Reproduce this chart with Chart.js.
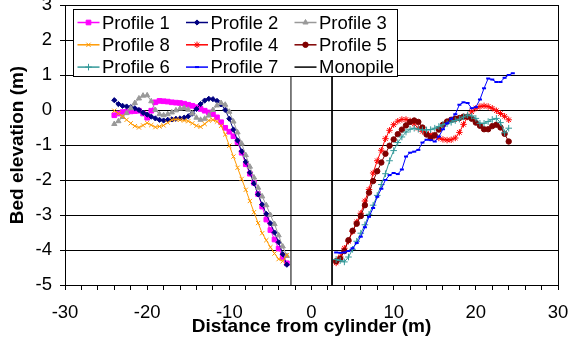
<!DOCTYPE html>
<html>
<head>
<meta charset="utf-8">
<script src="https://cdn.jsdelivr.net/npm/chart.js@4.4.1/dist/chart.umd.min.js"></script>
<style>
html,body{margin:0;padding:0;background:#fff;}
#wrap{position:relative;width:570px;height:347px;}
canvas{display:block;}
</style>
</head>
<body>
<div id="wrap"><canvas id="c" width="570" height="347"></canvas></div>
<script>
// ---- Data ----
const seriesLabels = ['Profile 1','Profile 2','Profile 3','Profile 8','Profile 4','Profile 5','Profile 6','Profile 7','Monopile'];

const leftX = [-24,-23.5,-23,-22.5,-22,-21.5,-21,-20.5,-20,-19.5,-19,-18.5,-18,-17.5,-17,-16.5,-16,-15.5,-15,-14.5,-14,-13.5,-13,-12.5,-12,-11.5,-11,-10.5,-10,-9.5,-9,-8.5,-8,-7.5,-7,-6.5,-6,-5.5,-5,-4.5,-4,-3.5,-3];
const rightX = [3,3.5,4,4.5,5,5.5,6,6.5,7,7.5,8,8.5,9,9.5,10,10.5,11,11.5,12,12.5,13,13.5,14,14.5,15,15.5,16,16.5,17,17.5,18,18.5,19,19.5,20,20.5,21,21.5,22,22.5,23,23.5,24,24.5];

const profile1 = [-0.15,-0.1,-0.06,-0.05,-0.04,-0.03,-0.02,-0.1,-0.22,-0.02,0.22,0.26,0.25,0.24,0.22,0.21,0.2,0.18,0.15,0.12,0.08,0.03,-0.02,-0.07,-0.12,-0.21,-0.35,-0.51,-0.62,-0.75,-0.92,-1.22,-1.55,-1.82,-2.08,-2.4,-2.76,-3.13,-3.43,-3.7,-3.96,-4.2,-4.38];
const profile2 = [0.28,0.17,0.12,0.1,0.08,0.05,0.0,-0.08,-0.13,-0.19,-0.24,-0.28,-0.3,-0.28,-0.27,-0.25,-0.24,-0.22,-0.18,-0.1,0.03,0.17,0.27,0.32,0.31,0.26,0.16,0.0,-0.25,-0.56,-0.87,-1.18,-1.48,-1.79,-2.1,-2.41,-2.7,-2.97,-3.24,-3.5,-3.78,-4.12,-4.42];
const profile3 = [-0.4,-0.32,-0.2,-0.09,0.05,0.2,0.33,0.41,0.42,0.25,0.0,-0.12,-0.15,-0.12,-0.07,-0.01,0.04,0.06,0.01,-0.1,-0.22,-0.28,-0.25,-0.16,0.0,0.13,0.2,0.15,-0.05,-0.33,-0.64,-0.96,-1.29,-1.62,-1.93,-2.22,-2.47,-2.72,-3.0,-3.26,-3.58,-3.9,-4.17];
const profile8 = [-0.02,-0.1,-0.18,-0.28,-0.38,-0.46,-0.5,-0.44,-0.37,-0.43,-0.49,-0.47,-0.44,-0.36,-0.28,-0.27,-0.28,-0.3,-0.32,-0.38,-0.45,-0.48,-0.4,-0.3,-0.28,-0.33,-0.45,-0.7,-1.02,-1.33,-1.65,-1.97,-2.28,-2.6,-2.92,-3.23,-3.52,-3.72,-3.92,-4.1,-4.26,-4.32,-4.15];
const profile4 = [-4.37,-4.2,-3.95,-3.75,-3.47,-3.2,-2.95,-2.6,-2.27,-1.8,-1.45,-1.15,-0.82,-0.58,-0.42,-0.32,-0.27,-0.27,-0.31,-0.4,-0.52,-0.61,-0.67,-0.7,-0.75,-0.8,-0.84,-0.86,-0.85,-0.8,-0.64,-0.41,-0.2,-0.05,0.05,0.1,0.12,0.1,0.05,-0.02,-0.1,-0.18,-0.28];
const profile5 = [-4.32,-4.25,-4.03,-3.72,-3.45,-3.25,-3.03,-2.72,-2.36,-2.03,-1.75,-1.5,-1.25,-1.02,-0.84,-0.69,-0.56,-0.44,-0.34,-0.3,-0.34,-0.5,-0.7,-0.8,-0.72,-0.56,-0.42,-0.33,-0.28,-0.25,-0.23,-0.19,-0.19,-0.25,-0.36,-0.45,-0.55,-0.55,-0.46,-0.42,-0.5,-0.68,-0.9];
const profile6 = [-4.27,-4.3,-4.34,-4.2,-3.98,-3.75,-3.52,-3.28,-2.98,-2.72,-2.44,-2.13,-1.82,-1.45,-1.16,-0.93,-0.77,-0.63,-0.55,-0.52,-0.55,-0.57,-0.57,-0.56,-0.52,-0.47,-0.42,-0.39,-0.35,-0.3,-0.26,-0.2,-0.14,-0.17,-0.24,-0.38,-0.38,-0.33,-0.27,-0.24,-0.36,-0.65,-0.52];
const profile7 = [-4.07,-4.08,-4.07,-4.03,-3.95,-3.8,-3.62,-3.35,-3.05,-2.8,-2.48,-2.25,-2.0,-1.86,-1.8,-1.83,-1.7,-1.33,-1.22,-1.19,-1.14,-0.93,-0.85,-0.86,-0.9,-0.76,-0.55,-0.38,-0.25,-0.12,0.15,0.22,0.2,0.05,0.08,0.3,0.62,0.9,0.87,0.8,0.8,0.92,1.0,1.05];

const monopileX = [-2.5,-2.5,0,2.5,2.5];
const monopileY = [-5,2,null,2,-5];

const xMajorTicks = [-30,-20,-10,0,10,20,30];
const yTicks = [-5,-4,-3,-2,-1,0,1,2,3];

// ---- Build ----
function pts(xs, ys){ return ys.map((y,i)=>({x:xs[i], y:y})); }

const styles = [
  {color:'#FF00FF', fill:'#FF00FF', style:'rect', r:3.3},
  {color:'#000080', fill:'#000080', style:'rectRot', r:2.6},
  {color:'#999999', fill:'#999999', style:'triangle', r:3},
  {color:'#FF9900', fill:'#FF9900', style:'crossRot', r:3},
  {color:'#FF0000', fill:'#FF0000', style:'star', r:3.2},
  {color:'#800000', fill:'#800000', style:'circle', r:2.7},
  {color:'#339999', fill:'#339999', style:'cross', r:3.3},
  {color:'#0000FF', fill:'#0000FF', style:'line', r:2},
  {color:'#000000', fill:'#000000', style:false, r:0}
];
const seriesData = [
  pts(leftX, profile1), pts(leftX, profile2), pts(leftX, profile3), pts(leftX, profile8),
  pts(rightX, profile4), pts(rightX, profile5), pts(rightX, profile6), pts(rightX, profile7),
  pts(monopileX, monopileY)
];

const datasets = seriesLabels.map((lab, i) => ({
  label: lab,
  data: seriesData[i],
  borderColor: styles[i].color,
  backgroundColor: styles[i].fill,
  pointBackgroundColor: styles[i].fill,
  pointBorderColor: styles[i].color,
  pointStyle: styles[i].style,
  pointRadius: styles[i].r,
  pointHoverRadius: styles[i].r,
  pointBorderWidth: i === 7 ? 2 : 1,
  borderWidth: 1,
  tension: 0,
  spanGaps: false,
  order: 20 - i
}));

const FONT = '"Liberation Sans", Arial, sans-serif';

const boxLegend = {
  id: 'boxLegend',
  afterDraw(chart) {
    const ctx = chart.ctx;
    const bx = 73, by = 9, bw = 325, bh = 68;
    ctx.save();
    ctx.fillStyle = '#fff';
    ctx.fillRect(bx, by, bw, bh);
    ctx.strokeStyle = '#000';
    ctx.lineWidth = 1;
    ctx.strokeRect(bx + 0.5, by + 0.5, bw - 1, bh - 1);
    ctx.font = '18.5px ' + FONT;
    ctx.textBaseline = 'middle';
    ctx.textAlign = 'left';
    chart.data.datasets.forEach((ds, i) => {
      const col = i % 3, row = Math.floor(i / 3);
      const sx = bx + 4.5 + col * 108.5;
      const sy = by + 13.5 + row * 22.3;
      ctx.strokeStyle = ds.borderColor;
      ctx.lineWidth = 1.5;
      ctx.beginPath(); ctx.moveTo(sx, sy); ctx.lineTo(sx + 22, sy); ctx.stroke();
      if (ds.pointRadius > 0) {
        ctx.fillStyle = ds.pointBackgroundColor;
        ctx.strokeStyle = ds.pointBorderColor;
        ctx.lineWidth = ds.pointBorderWidth;
        Chart.helpers.drawPoint(ctx, {pointStyle: ds.pointStyle, radius: ds.pointRadius, borderWidth: ds.pointBorderWidth, rotation: 0}, sx + 11, sy);
      }
      ctx.fillStyle = '#000';
      ctx.fillText(ds.label, sx + 24.5, sy + 1);
    });
    ctx.restore();
  }
};

Chart.defaults.font.family = FONT;
Chart.defaults.color = '#000';

new Chart(document.getElementById('c'), {
  type: 'line',
  data: { datasets },
  options: {
    responsive: false,
    animation: false,
    events: [],
    layout: { padding: { left: 0, right: 12, top: 5, bottom: 0 } },
    plugins: { legend: { display: false }, tooltip: { enabled: false } },
    scales: {
      x: {
        type: 'linear',
        min: xMajorTicks[0],
        max: xMajorTicks[xMajorTicks.length - 1],
        ticks: {
          stepSize: 2,
          autoSkip: false,
          maxRotation: 0,
          padding: 12,
          color: '#000',
          font: { size: 18.5 },
          callback: v => xMajorTicks.includes(v) ? String(v) : ''
        },
        grid: {
          drawOnChartArea: true,
          drawTicks: true,
          tickLength: 5,
          tickColor: '#000',
          color: c => (c.tick && c.tick.value === xMajorTicks[xMajorTicks.length - 1]) ? '#000' : 'rgba(0,0,0,0)'
        },
        border: { color: '#000', width: 1 },
        title: { display: true, text: 'Distance from cylinder (m)', color: '#000', font: { size: 19, weight: 'bold' }, padding: { top: 0, bottom: 9 } },
        afterFit(s) { s.height = 62; s.paddingLeft = 0; s.paddingRight = 0; }
      },
      y: {
        type: 'linear',
        min: yTicks[0],
        max: yTicks[yTicks.length - 1],
        afterBuildTicks(s) { s.ticks = yTicks.map(v => ({ value: v })); },
        ticks: { padding: 8, color: '#000', font: { size: 18.5 } },
        grid: { color: '#000', tickColor: '#000', tickLength: 5, lineWidth: 1 },
        border: { color: '#000', width: 1 },
        title: { display: true, text: 'Bed elevation (m)', color: '#000', font: { size: 19, weight: 'bold' }, padding: { top: 6, bottom: 0 } },
        afterFit(s) { s.width = 65; s.paddingTop = 0; s.paddingBottom = 0; }
      }
    }
  },
  plugins: [boxLegend]
});
</script>
</body>
</html>
